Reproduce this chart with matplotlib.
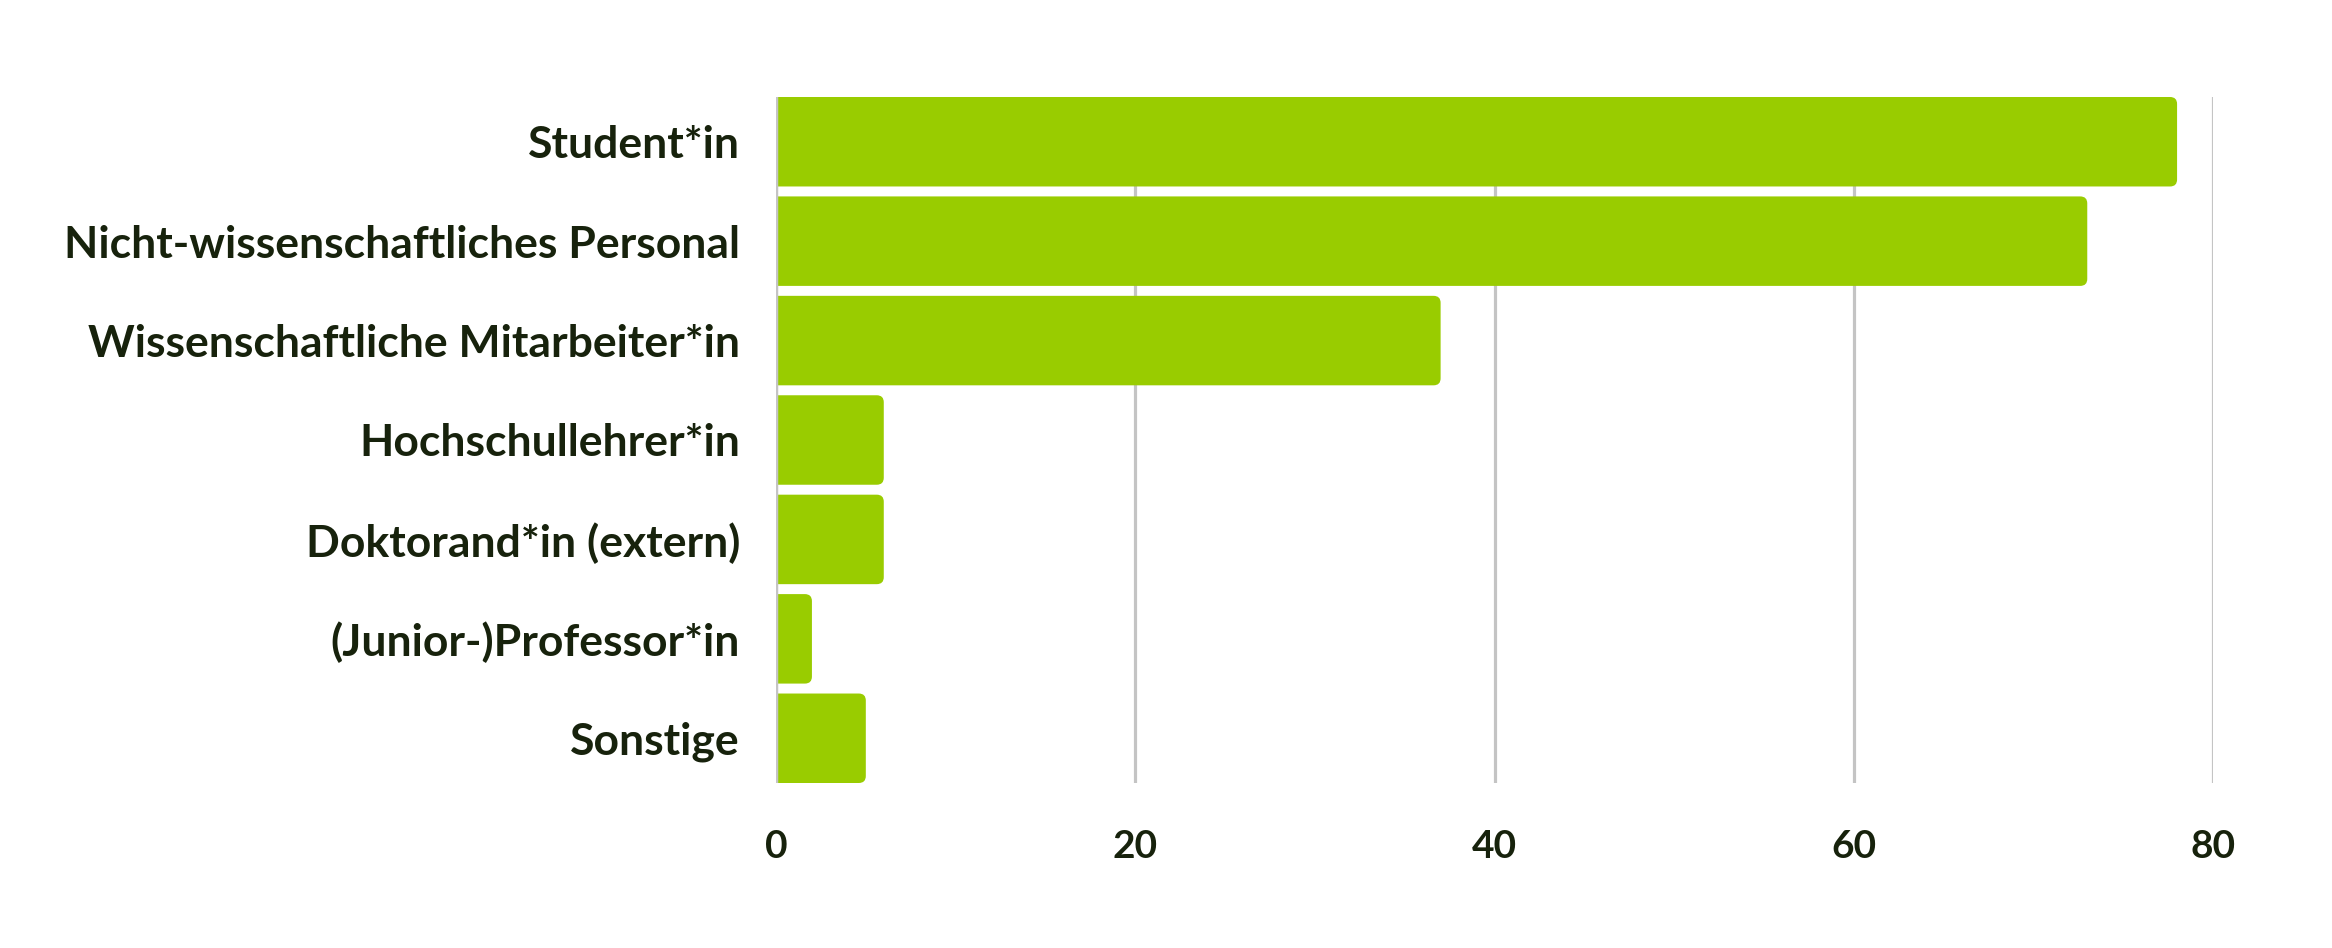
import matplotlib
matplotlib.use("Agg")
import matplotlib.pyplot as plt
from matplotlib.patches import FancyBboxPatch

categories = [
    "Student*in",
    "Nicht-wissenschaftliches Personal",
    "Wissenschaftliche Mitarbeiter*in",
    "Hochschullehrer*in",
    "Doktorand*in (extern)",
    "(Junior-)Professor*in",
    "Sonstige",
]
values = [78, 73, 37, 6, 6, 2, 5]
xticks = [0, 20, 40, 60, 80]

BAR = "#99cc00"
GRID = "#c4c4c4"
TXT = "#17220c"

plt.rcParams["font.family"] = ["Lato", "DejaVu Sans"]

fig = plt.figure(figsize=(23.32, 9.48), dpi=100)
ax = fig.add_axes([776 / 2332, 1 - 783 / 948, (2213 - 776) / 2332, (783 - 97) / 948])

h = 0.9
ax.set_xlim(0, 80)
ax.set_ylim(len(categories) - 1 + h / 2, -h / 2)

# pixel scales for corner rounding
px_per_x = (2213 - 776) / 80.0
px_per_y = (783 - 97) / (len(categories) - 1 + h)
radius_px = 7
rs = radius_px / px_per_x
aspect = px_per_x / px_per_y

for i, v in enumerate(values):
    p = FancyBboxPatch((-2, i - h / 2), v + 2, h,
                       boxstyle=f"round,pad=0,rounding_size={rs}",
                       mutation_aspect=aspect,
                       facecolor=BAR, edgecolor="none", zorder=2, clip_on=True)
    ax.add_patch(p)

ax.set_xticks(xticks)
ax.set_xticklabels([str(t) for t in xticks])
ax.set_yticks(range(len(categories)))
ax.set_yticklabels(categories)

for t in xticks[1:]:
    ax.axvline(t, color=GRID, lw=2.3, zorder=1)
ax.axvline(0, color=GRID, lw=2.5, zorder=3)

for s in ax.spines.values():
    s.set_visible(False)

ax.tick_params(axis="both", length=0)
ax.tick_params(axis="y", pad=26, labelsize=32, labelcolor=TXT)
ax.tick_params(axis="x", pad=33, labelsize=28, labelcolor=TXT)
for lab in ax.get_yticklabels() + ax.get_xticklabels():
    lab.set_fontweight("bold")

fig.savefig("out.png", dpi=100, facecolor="white")
